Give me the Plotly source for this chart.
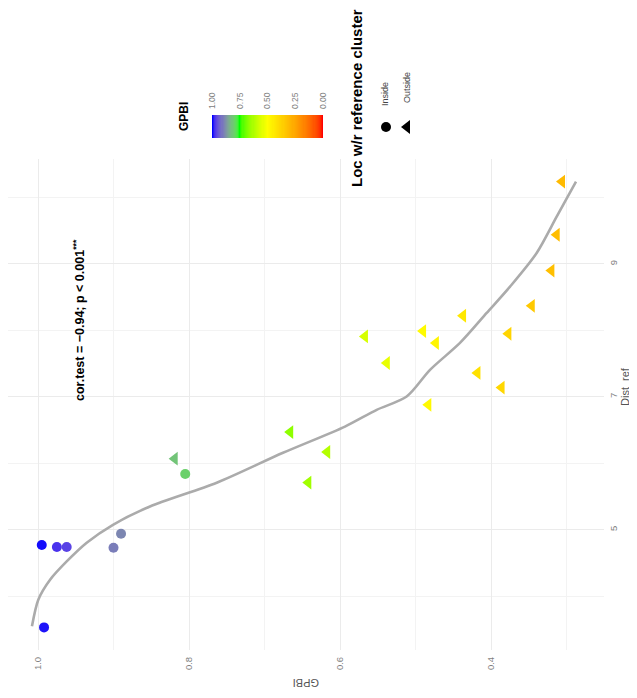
import plotly.graph_objects as go

# ---------------- data ----------------
inside_gpbi = [0.992, 0.995, 0.975, 0.962, 0.900, 0.890, 0.805]
inside_dist = [3.53, 4.77, 4.74, 4.74, 4.73, 4.94, 5.84]

outside_gpbi = [0.819, 0.666, 0.617, 0.642, 0.567, 0.538, 0.490, 0.473, 0.437,
                0.483, 0.418, 0.386, 0.377, 0.346, 0.320, 0.313, 0.306]
outside_dist = [6.07, 6.47, 6.17, 5.71, 7.91, 7.51, 7.99, 7.81, 8.22,
                6.88, 7.36, 7.14, 7.95, 8.37, 8.90, 9.44, 10.24]

smooth_gpbi = [1.008, 0.9996, 0.984, 0.962, 0.9355, 0.9007, 0.8517, 0.7633, 0.6755,
               0.5934, 0.5514, 0.5117, 0.4808, 0.4411, 0.4057, 0.3748, 0.3395, 0.313, 0.2874]
smooth_dist = [3.546, 3.947, 4.248, 4.523, 4.805, 5.075, 5.350, 5.707, 6.158,
               6.553, 6.805, 7.005, 7.406, 7.812, 8.263, 8.659, 9.165, 9.711, 10.238]

legend_breaks = [1.00, 0.75, 0.50, 0.25, 0.00]
legend_break_labels = ["1.00", "0.75", "0.50", "0.25", "0.00"]
shape_labels = ["Inside", "Outside"]

# ---------------- colour scale (Lab interpolation like ggplot) ----------------
anchor_cols = [(255, 0, 0), (255, 165, 0), (255, 255, 0), (0, 255, 0), (0, 0, 255)]
anchor_pos = [0.0, 0.25, 0.5, 0.75, 1.0]
WHITE = (0.95047, 1.0, 1.08883)


def _lin(c):
    c = c / 255.0
    return c / 12.92 if c <= 0.04045 else ((c + 0.055) / 1.055) ** 2.4


def _delin(c):
    c = 12.92 * c if c <= 0.0031308 else 1.055 * c ** (1 / 2.4) - 0.055
    return int(max(0, min(255, round(c * 255))))


def _f(t):
    d = 6 / 29
    return t ** (1 / 3) if t > d ** 3 else t / (3 * d * d) + 4 / 29


def _finv(t):
    d = 6 / 29
    return t ** 3 if t > d else 3 * d * d * (t - 4 / 29)


def rgb2lab(rgb):
    r, g, b = [_lin(v) for v in rgb]
    x = 0.4124 * r + 0.3576 * g + 0.1805 * b
    y = 0.2126 * r + 0.7152 * g + 0.0722 * b
    z = 0.0193 * r + 0.1192 * g + 0.9505 * b
    fx, fy, fz = _f(x / WHITE[0]), _f(y / WHITE[1]), _f(z / WHITE[2])
    return (116 * fy - 16, 500 * (fx - fy), 200 * (fy - fz))


def lab2rgb(lab):
    L, a, b = lab
    fy = (L + 16) / 116
    fx = fy + a / 500
    fz = fy - b / 200
    x, y, z = WHITE[0] * _finv(fx), WHITE[1] * _finv(fy), WHITE[2] * _finv(fz)
    r = 3.2406 * x - 1.5372 * y - 0.4986 * z
    g = -0.9689 * x + 1.8758 * y + 0.0415 * z
    bb = 0.0557 * x - 0.2040 * y + 1.0570 * z
    return tuple(_delin(max(0.0, v)) for v in (r, g, bb))


anchor_lab = [rgb2lab(c) for c in anchor_cols]
colorscale = []
NSTEP = 60
for i in range(NSTEP + 1):
    t = i / NSTEP
    k = min(int(t / 0.25), 3)
    u = (t - anchor_pos[k]) / 0.25
    lab = tuple(anchor_lab[k][j] + (anchor_lab[k + 1][j] - anchor_lab[k][j]) * u for j in range(3))
    r, g, b = lab2rgb(lab)
    colorscale.append([round(t, 6), "rgb(%d,%d,%d)" % (r, g, b)])
colorscale[-1][0] = 1.0

# ---------------- geometry helpers (page-pixel layout) ----------------
W, H = 637, 698
OFF = 8  # default page body margin offsets the figure
FONT = "Liberation Sans"


def px(x):
    return min(1.0, max(0.0, (x - OFF) / W))


def py(y):
    return min(1.0, max(0.0, 1 - (y - OFF) / H))


# panel in page pixels; GPBI 1.0 sits at x=38 and 755 px per unit
panel_l, panel_r, panel_t, panel_b = 8, 604, 159, 650
gpbi_lo = 1 - (panel_l - 38) / 755.0
gpbi_hi = 1 - (panel_r - 38) / 755.0

fig = go.Figure()

# points
fig.add_trace(go.Scatter(
    x=inside_gpbi, y=inside_dist, mode="markers", name="Inside",
    marker=dict(symbol="circle", size=10, color=inside_gpbi, colorscale=colorscale,
                cmin=0, cmax=1, showscale=False, line=dict(width=0)),
    showlegend=False, xaxis="x", yaxis="y"))
fig.add_trace(go.Scatter(
    x=outside_gpbi, y=outside_dist, mode="markers", name="Outside",
    marker=dict(symbol="triangle-left", size=12, color=outside_gpbi, colorscale=colorscale,
                cmin=0, cmax=1, showscale=False, line=dict(width=0)),
    showlegend=False, xaxis="x", yaxis="y"))

# smooth line
fig.add_trace(go.Scatter(
    x=smooth_gpbi, y=smooth_dist, mode="lines",
    line=dict(color="#ABABAB", width=2.6, shape="spline", smoothing=0.8),
    showlegend=False, hoverinfo="skip", xaxis="x", yaxis="y"))

# colour legend bar
ramp = [i / 100 for i in range(101)]
fig.add_trace(go.Heatmap(
    x=ramp, y=[0, 1], z=[ramp, ramp], colorscale=colorscale, zmin=0, zmax=1, showscale=False,
    xaxis="x2", yaxis="y2", hoverinfo="skip"))

# shape legend keys (overlay axes in page pixels)
fig.add_trace(go.Scatter(
    x=[386], y=[127], mode="markers",
    marker=dict(symbol="circle", size=10, color="black"),
    showlegend=False, hoverinfo="skip", xaxis="x3", yaxis="y3"))
fig.add_trace(go.Scatter(
    x=[407], y=[127], mode="markers",
    marker=dict(symbol="triangle-left", size=12, color="black"),
    showlegend=False, hoverinfo="skip", xaxis="x3", yaxis="y3"))

grid_major = "#EBEBEB"
grid_minor = "#F3F3F3"
tickfont = dict(family=FONT, size=9.5, color="#7F7F7F")

fig.update_layout(
    width=W, height=H, autosize=False,
    margin=dict(l=0, r=0, t=0, b=0, pad=0),
    paper_bgcolor="white", plot_bgcolor="rgba(0,0,0,0)",
    xaxis=dict(domain=[px(panel_l), px(panel_r)], range=[gpbi_lo, gpbi_hi], anchor="y",
               automargin=False,
               tickmode="linear", tick0=0.4, dtick=0.2, tickformat=".1f", tickangle=-90,
               tickfont=tickfont, ticks="", ticklabelstandoff=4, showline=False, zeroline=False,
               showgrid=True, gridcolor=grid_major, gridwidth=1,
               minor=dict(tickmode="linear", tick0=0.3, dtick=0.2, showgrid=True,
                          gridcolor=grid_minor, gridwidth=0.8)),
    yaxis=dict(domain=[py(panel_b), py(panel_t)], range=[3.19, 10.58], anchor="x", side="right",
               automargin=False,
               tickmode="linear", tick0=5, dtick=2, tickangle=-90, tickfont=tickfont, ticks="",
               ticklabelstandoff=2, showline=False, zeroline=False,
               showgrid=True, gridcolor=grid_major, gridwidth=1,
               minor=dict(tickmode="linear", tick0=4, dtick=2, showgrid=True,
                          gridcolor=grid_minor, gridwidth=0.8)),
    xaxis2=dict(domain=[px(212), px(323)], range=[1, 0], anchor="y2", side="top",
                automargin=False,
                tickmode="array", tickvals=legend_breaks, ticktext=legend_break_labels,
                tickangle=-90, tickfont=dict(family=FONT, size=8.5, color="#808080"), ticks="",
                ticklabelstandoff=5, showgrid=False, zeroline=False, showline=False),
    yaxis2=dict(domain=[py(138), py(115)], range=[-0.5, 1.5], anchor="x2", automargin=False,
                showticklabels=False, showgrid=False, zeroline=False, ticks=""),
    xaxis3=dict(domain=[0, 1], range=[OFF, W + OFF], anchor="y3", visible=False,
                fixedrange=True, automargin=False),
    yaxis3=dict(domain=[0, 1], range=[H + OFF, OFF], anchor="x3", visible=False,
                fixedrange=True, automargin=False),
    showlegend=False,
)

annotations = [
    dict(text="GPBI", x=px(306), y=py(683), textangle=180,
         font=dict(family=FONT, size=11, color="#555555")),
    dict(text="Dist_ref", x=px(625), y=py(387), textangle=-90,
         font=dict(family=FONT, size=11, color="#555555")),
    dict(text="<b>cor.test = \u22120.94; p < 0.001<sup>***</sup></b>", x=px(79), y=py(320),
         textangle=-90, font=dict(family=FONT, size=12.5, color="black")),
    dict(text="<b>GPBI</b>", x=px(184), y=py(117), textangle=-90,
         font=dict(family=FONT, size=12, color="black")),
    dict(text="<b>Loc w/r reference cluster</b>", x=px(357), y=py(98), textangle=-90,
         font=dict(family=FONT, size=15, color="black")),
    dict(text=shape_labels[0], x=px(385), y=py(94), textangle=-90,
         font=dict(family=FONT, size=9, color="#444444")),
    dict(text=shape_labels[1], x=px(407), y=py(88), textangle=-90,
         font=dict(family=FONT, size=9, color="#444444")),
]
for a in annotations:
    a.update(xref="paper", yref="paper", showarrow=False, xanchor="center", yanchor="middle")
fig.update_layout(annotations=annotations)

fig.write_html("out.html")
